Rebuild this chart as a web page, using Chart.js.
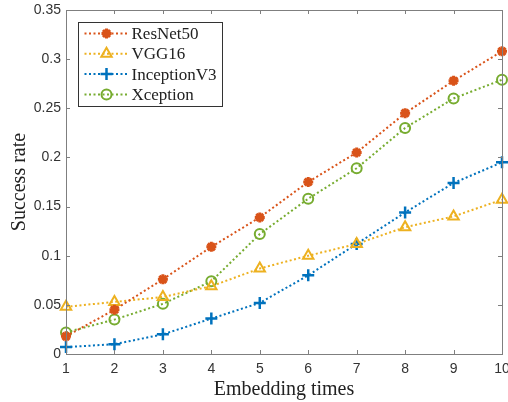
<!DOCTYPE html>
<html>
<head>
<meta charset="utf-8">
<script src="https://cdn.jsdelivr.net/npm/chart.js@4.4.0/dist/chart.umd.min.js"></script>
<style>
  html, body { margin: 0; padding: 0; background: #fff; }
  #wrap { width: 508px; height: 402px; }
</style>
</head>
<body>
<div id="wrap"><canvas id="chart"></canvas></div>
<script>
// 数据
const embeddingTimes = [1, 2, 3, 4, 5, 6, 7, 8, 9, 10];
const yTicks = [0, 0.05, 0.1, 0.15, 0.2, 0.25, 0.3, 0.35];

const resnet50 = [0.018, 0.045, 0.076, 0.109, 0.139, 0.175, 0.205, 0.245, 0.278, 0.308];
const vgg16 = [0.048, 0.053, 0.058, 0.069, 0.087, 0.100, 0.112, 0.129, 0.140, 0.157];
const inceptionV3 = [0.007, 0.010, 0.020, 0.036, 0.052, 0.080, 0.112, 0.144, 0.174, 0.195];
const xception = [0.022, 0.035, 0.051, 0.074, 0.122, 0.158, 0.189, 0.230, 0.260, 0.279];

const AXIS_COLOR = '#7f7f7f';
const TEXT_COLOR = '#333333';

function series(label, data, color, pointStyle, radius, pointBorder) {
    return {
        label: label,
        data: data,
        borderColor: color,
        backgroundColor: 'rgba(0,0,0,0)',
        borderWidth: 2,
        borderDash: [2, 2.5],
        pointStyle: pointStyle,
        pointRadius: radius,
        pointBorderWidth: pointBorder,
        pointBorderColor: color,
        pointBackgroundColor: 'rgba(0,0,0,0)',
        tension: 0,
        fill: false
    };
}

// 盒子边框 + 向内的刻度线 (MATLAB 风格)
const boxTicks = {
    id: 'boxTicks',
    afterDatasetsDraw(chart) {
        const { ctx, chartArea: a, scales } = chart;
        const len = 4;
        ctx.save();
        ctx.strokeStyle = AXIS_COLOR;
        ctx.lineWidth = 1;
        ctx.beginPath();
        scales.x.ticks.forEach((t, i) => {
            const px = Math.round(scales.x.getPixelForTick(i)) + 0.5;
            ctx.moveTo(px, a.bottom); ctx.lineTo(px, a.bottom - len);
            ctx.moveTo(px, a.top); ctx.lineTo(px, a.top + len);
        });
        scales.y.ticks.forEach(t => {
            const py = Math.round(scales.y.getPixelForValue(t.value)) + 0.5;
            ctx.moveTo(a.left, py); ctx.lineTo(a.left + len, py);
            ctx.moveTo(a.right, py); ctx.lineTo(a.right - len, py);
        });
        ctx.stroke();
        ctx.strokeRect(Math.round(a.left) + 0.5, Math.round(a.top) + 0.5,
            Math.round(a.right - a.left), Math.round(a.bottom - a.top));
        ctx.restore();
    }
};

// 图例：画在绘图区左上角
const boxLegend = {
    id: 'boxLegend',
    afterDraw(chart) {
        const { ctx, chartArea: a } = chart;
        const x0 = a.left + 12.5, y0 = a.top + 12.5;
        const w = 144, rowH = 20.3, h = 84;
        ctx.save();
        ctx.fillStyle = '#fff';
        ctx.fillRect(x0, y0, w, h);
        ctx.strokeStyle = '#333';
        ctx.lineWidth = 1;
        ctx.strokeRect(x0, y0, w, h);
        ctx.font = '17px "Liberation Serif", serif';
        ctx.textBaseline = 'middle';
        chart.data.datasets.forEach((ds, i) => {
            const cy = y0 + 11 + i * rowH;
            ctx.strokeStyle = ds.borderColor;
            ctx.lineWidth = ds.borderWidth;
            ctx.setLineDash(ds.borderDash);
            ctx.beginPath();
            ctx.moveTo(x0 + 6, cy); ctx.lineTo(x0 + 50, cy);
            ctx.stroke();
            ctx.setLineDash([]);
            ctx.lineWidth = ds.pointBorderWidth;
            ctx.fillStyle = ds.pointBackgroundColor;
            Chart.helpers.drawPoint(ctx, {
                pointStyle: ds.pointStyle, radius: ds.pointRadius,
                borderWidth: ds.pointBorderWidth, rotation: 0
            }, x0 + 28, cy);
            ctx.fillStyle = '#222';
            ctx.fillText(ds.label, x0 + 53, cy + 1);
        });
        ctx.restore();
    }
};

const chart = new Chart(document.getElementById('chart'), {
    type: 'line',
    data: {
        labels: embeddingTimes,
        datasets: [
            series('ResNet50', resnet50, '#D95319', 'star', 5, 3),
            series('VGG16', vgg16, '#EDB120', 'triangle', 6, 2),
            series('InceptionV3', inceptionV3, '#0072BD', 'cross', 6, 2.5),
            series('Xception', xception, '#77AC30', 'circle', 5, 2)
        ]
    },
    options: {
        responsive: true,
        maintainAspectRatio: false,
        animation: false,
        layout: { autoPadding: false, padding: { top: 10, right: 6, left: 0, bottom: 0 } },
        plugins: {
            legend: { display: false },
            tooltip: { enabled: false }
        },
        scales: {
            x: {
                type: 'category',
                offset: false,
                grid: { display: false, drawTicks: false },
                border: { display: false },
                ticks: {
                    color: TEXT_COLOR,
                    padding: 7,
                    maxRotation: 0,
                    autoSkip: false,
                    font: { family: '"Liberation Sans", Arial, sans-serif', size: 14 }
                },
                title: {
                    display: true,
                    text: 'Embedding times',
                    color: '#222',
                    padding: { top: 0, bottom: 0 },
                    font: { family: '"Liberation Serif", serif', size: 20 }
                },
                afterFit(scale) {
                    scale.height = 48;
                    scale.paddingLeft = 0;
                    scale.paddingRight = 0;
                }
            },
            y: {
                type: 'linear',
                min: 0,
                max: 0.35,
                afterBuildTicks(scale) {
                    scale.ticks = yTicks.map(v => ({ value: v }));
                },
                grid: { display: false, drawTicks: false },
                border: { display: false },
                ticks: {
                    color: TEXT_COLOR,
                    padding: 5,
                    callback: v => String(v),
                    font: { family: '"Liberation Sans", Arial, sans-serif', size: 14 }
                },
                title: {
                    display: true,
                    text: 'Success rate',
                    color: '#222',
                    padding: { top: 8, bottom: 0 },
                    font: { family: '"Liberation Serif", serif', size: 20 }
                },
                afterFit(scale) {
                    scale.width = 66;
                    scale.paddingTop = 0;
                    scale.paddingBottom = 0;
                }
            }
        }
    },
    plugins: [boxTicks, boxLegend]
});
</script>
</body>
</html>
